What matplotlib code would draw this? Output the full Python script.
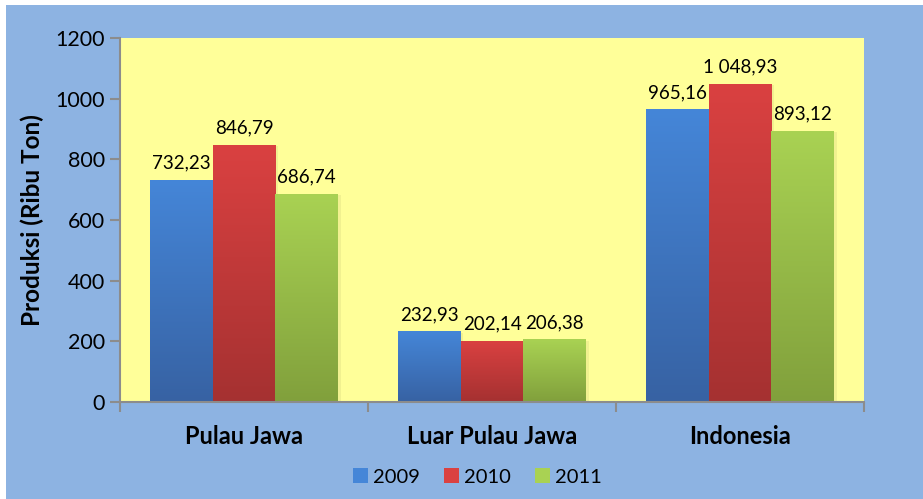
import numpy as np
import matplotlib
matplotlib.use('Agg')
import matplotlib.pyplot as plt
from matplotlib.patches import Rectangle
from matplotlib.colors import LinearSegmentedColormap

plt.rcParams['font.family'] = ['Lato', 'DejaVu Sans']

categories = ['Pulau Jawa', 'Luar Pulau Jawa', 'Indonesia']
years = ['2009', '2010', '2011']
v2009 = [732.23, 232.93, 965.16]
v2010 = [846.79, 202.14, 1048.93]
v2011 = [686.74, 206.38, 893.12]
labels2009 = ['732,23', '232,93', '965,16']
labels2010 = ['846,79', '202,14', '1 048,93']
labels2011 = ['686,74', '206,38', '893,12']

series = [v2009, v2010, v2011]
series_labels = [labels2009, labels2010, labels2011]
tops = ['#4586d8', '#da4141', '#a9d253']
bottoms = ['#3762a3', '#a53131', '#81a03c']

fig = plt.figure(figsize=(9.23, 4.99), dpi=100, facecolor='white')
fig.patches.append(Rectangle((6/923, 0), 1, 1 - 5/499, transform=fig.transFigure,
                             facecolor='#8db3e2', edgecolor='none', zorder=-10))
ax = fig.add_axes([120/923, 1 - 402/499, 744/923, 364/499])
ax.set_facecolor('#ffff99')

x = np.arange(len(categories))
w = 0.253
ax.set_xlim(-0.5, 2.5)
ax.set_ylim(0, 1200)
grad = np.linspace(1, 0, 256).reshape(-1, 1)
for i, vals in enumerate(series):
    cmap = LinearSegmentedColormap.from_list('g', [bottoms[i], tops[i]])
    pos = x + (i - 1) * w
    bars = ax.bar(pos, vals, w, color=tops[i], label=years[i], zorder=2)
    for b, lab in zip(bars, series_labels[i]):
        bx, by = b.get_x(), b.get_height()
        # soft shadow on the right
        ax.add_patch(Rectangle((bx + 0.01, 0), b.get_width(), by - 4,
                               facecolor='#c8c878', alpha=0.25, edgecolor='none', zorder=1))
        im = ax.imshow(grad, extent=[bx, bx + b.get_width(), 0, by], aspect='auto',
                       cmap=cmap, zorder=2.5)
        im.set_clip_path(b)
        ax.annotate(lab, (bx + b.get_width() / 2, by), xytext=(0, 6),
                    textcoords='offset points', ha='center', va='bottom',
                    fontsize=13.5, color='black', zorder=3)

ax.set_yticks(range(0, 1201, 200))
ax.tick_params(axis='y', labelsize=15.5, length=7, width=1.5, color='#8c8c8c', pad=4)
ax.set_xticks([-0.5, 0.5, 1.5, 2.5])
ax.set_xticklabels([])
ax.tick_params(axis='x', length=7, width=1.5, color='#8c8c8c', direction='out')
for c, name in zip(x, categories):
    ax.annotate(name, (c, 0), xytext=(0, -25), textcoords='offset points',
                ha='center', va='center', fontsize=17, fontweight='bold')
for s in ['top', 'right']:
    ax.spines[s].set_visible(False)
for s in ['left', 'bottom']:
    ax.spines[s].set_color('#8c8c8c')
    ax.spines[s].set_linewidth(1.5)
ax.set_ylabel('Produksi (Ribu Ton)', fontsize=17.5, fontweight='bold', labelpad=8)

leg = ax.legend(loc='center', bbox_to_anchor=(0.517, 1 - 477/499), bbox_transform=fig.transFigure,
                ncol=3, frameon=False, fontsize=14.5, handlelength=0.75, handleheight=0.75,
                handletextpad=0.25, columnspacing=1.2)

plt.savefig('out.png', dpi=100, facecolor=fig.get_facecolor())
